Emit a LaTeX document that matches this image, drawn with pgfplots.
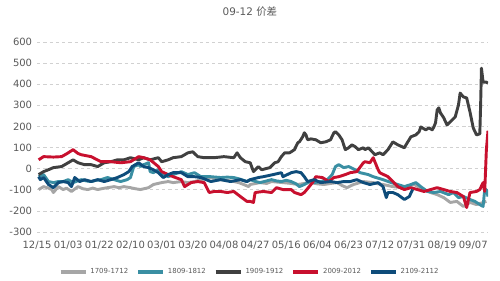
\documentclass[border=0pt]{standalone}
\usepackage{pgfplots}
\pgfplotsset{compat=1.18}
\usepackage{fontspec}
\setmainfont{DejaVu Sans}
\newfontfamily\cjk{Noto Sans CJK SC}
\definecolor{cgrey}{HTML}{A6A6A6}
\definecolor{cteal}{HTML}{3A8FA3}
\definecolor{cblack}{HTML}{404040}
\definecolor{cred}{HTML}{C8102E}
\definecolor{cblue}{HTML}{0E4C7A}
\definecolor{ctext}{HTML}{595959}
\begin{document}
\begin{tikzpicture}
\begin{axis}[
  name=ax,
  scale only axis,
  width=324.7pt, height=136.8pt,
  xmin=0, xmax=275, ymin=-300, ymax=600,
  axis line style={draw=none},
  ytick={-300,-200,-100,0,100,200,300,400,500,600},
  yticklabels={-300,-200,-100,0,100,200,300,400,500,600},
  xtick={0,19,38,57,76,95,114,133,152,171,190,209,228,247,266},
  xticklabels={12/15,01/03,01/22,02/10,03/01,03/20,04/08,04/27,05/16,06/04,06/23,07/12,07/31,08/19,09/07},
  tick style={draw=none},
  ymajorgrids,
  major grid style={draw=black!18, line width=0.5pt, dash pattern=on 2.5pt off 2pt},
  ticklabel style={font=\fontsize{7.2}{8}\selectfont, text=ctext},
  xticklabel style={yshift=-3pt},
  title={09-12 {\cjk 价差}},
  title style={at={(0.472,1.116)}, anchor=center, font=\fontsize{7.5}{9}\selectfont, text=ctext},
  legend columns=5,
  legend style={at={(0.472,-0.21)}, anchor=center, draw=none, fill=none,
    font=\fontsize{5}{6}\selectfont, text=ctext,
    /tikz/every even column/.append style={column sep=3.6pt}},
  legend image code/.code={\draw[line width=3pt] (0pt,0pt) -- (18pt,0pt);},
  every axis plot/.append style={line width=2.1pt, line join=round, no markers},
]
\addplot[cgrey] coordinates {(1,-99) (4,-85) (7,-92) (9,-99) (10,-113) (13,-85) (16,-99) (18,-92) (21,-108) (25,-85) (28,-95) (31,-99) (34,-92) (37,-99) (40,-94) (43,-90) (47,-85) (50,-90) (53,-85) (57,-90) (60,-95) (63,-99) (68,-90) (71,-75) (76,-66) (80,-61) (83,-66) (88,-61) (92,-66) (96,-61) (100,-52) (103,-48) (106,-42) (109,-50) (112,-52) (116,-56) (120,-61) (123,-66) (126,-75) (129,-85) (130,-75) (136,-66) (140,-70) (143,-61) (147,-64) (150,-66) (155,-70) (159,-75) (163,-70) (167,-66) (171,-72) (175,-75) (179,-70) (183,-66) (186,-80) (189,-90) (193,-75) (196,-68) (199,-61) (205,-66) (208,-72) (211,-75) (214,-80) (217,-85) (220,-88) (224,-90) (227,-80) (230,-75) (233,-88) (236,-99) (240,-113) (244,-123) (248,-137) (252,-160) (256,-155) (260,-179) (264,-160) (268,-170) (272,-160) (274,-155)};
\addlegendentry{1709-1712}
\addplot[cteal] coordinates {(1,-38) (4,-28) (7,-61) (10,-66) (13,-61) (16,-61) (19,-52) (22,-66) (27,-52) (30,-58) (33,-61) (36,-55) (39,-52) (43,-42) (47,-52) (51,-61) (55,-52) (57,-42) (59,10) (62,19) (63,10) (65,19) (68,28) (69,-14) (71,-19) (74,-5) (76,-19) (80,-38) (83,-28) (88,-14) (92,-28) (96,-19) (100,-38) (106,-38) (112,-42) (116,-40) (120,-42) (124,-50) (128,-61) (130,-52) (133,-60) (136,-66) (140,-58) (143,-52) (146,-58) (149,-61) (152,-55) (155,-61) (158,-72) (160,-85) (163,-75) (166,-61) (169,-66) (173,-61) (177,-52) (180,-28) (182,10) (184,19) (187,5) (190,10) (194,-5) (197,-19) (202,-28) (205,-38) (208,-45) (211,-52) (216,-66) (220,-75) (224,-85) (228,-75) (231,-66) (234,-85) (238,-108) (242,-113) (246,-108) (251,-123) (254,-113) (257,-137) (260,-132) (264,-146) (267,-155) (270,-170) (272,-179) (273,-99) (274,-99) (275,-132)};
\addlegendentry{1809-1812}
\addplot[cblack] coordinates {(1,-28) (4,-14) (7,-5) (10,5) (15,10) (19,28) (22,42) (25,28) (29,19) (33,19) (37,10) (41,28) (45,33) (49,42) (53,42) (57,52) (62,42) (65,52) (69,42) (74,52) (76,33) (80,42) (83,52) (88,57) (92,75) (95,80) (98,57) (102,52) (108,52) (114,57) (120,52) (122,75) (124,52) (127,33) (130,28) (132,-14) (135,10) (137,-5) (142,5) (145,28) (147,33) (149,57) (151,75) (154,75) (157,90) (159,123) (160,127) (162,151) (163,170) (164,160) (165,137) (167,141) (170,137) (173,123) (176,127) (179,137) (181,170) (182,175) (184,160) (186,137) (188,90) (190,99) (192,113) (194,104) (196,90) (199,99) (200,90) (202,99) (205,75) (206,66) (209,75) (211,66) (214,90) (217,127) (220,113) (224,99) (225,113) (228,151) (231,160) (233,175) (234,198) (237,184) (239,193) (241,184) (242,198) (243,217) (244,278) (245,288) (246,264) (248,241) (250,207) (252,222) (255,245) (257,302) (258,358) (260,340) (262,335) (264,269) (266,193) (268,160) (270,165) (270.5,302) (271,476) (272,410) (274,410) (275,405)};
\addlegendentry{1909-1912}
\addplot[cred] coordinates {(1,42) (4,57) (10,55) (15,57) (18,70) (22,90) (25,72) (27,66) (33,57) (39,33) (45,33) (51,28) (57,33) (62,57) (65,52) (69,42) (74,10) (76,-14) (80,-28) (83,-38) (88,-52) (90,-85) (94,-66) (98,-61) (102,-66) (105,-113) (108,-108) (112,-108) (116,-113) (120,-108) (124,-132) (128,-155) (130,-155) (132,-160) (133,-113) (138,-108) (143,-113) (146,-90) (150,-99) (155,-99) (157,-113) (161,-123) (163,-113) (166,-85) (168,-66) (170,-38) (174,-42) (178,-61) (181,-42) (184,-38) (188,-28) (191,-19) (195,-14) (199,28) (200,33) (203,28) (205,52) (208,-5) (209,-19) (214,-38) (217,-61) (220,-85) (224,-99) (228,-90) (232,-99) (236,-108) (240,-99) (244,-90) (248,-99) (252,-108) (256,-113) (260,-132) (262,-184) (264,-113) (268,-108) (270,-99) (272,-66) (273,-108) (274,90) (275,180)};
\addlegendentry{2009-2012}
\addplot[cblue] coordinates {(1,-38) (2,-52) (4,-42) (7,-75) (10,-90) (13,-66) (16,-61) (19,-66) (21,-85) (23,-42) (26,-61) (29,-52) (33,-61) (37,-52) (41,-61) (45,-52) (49,-42) (53,-28) (56,-14) (58,10) (62,28) (65,10) (68,5) (71,-5) (74,-19) (77,-42) (80,-28) (83,-19) (88,-19) (92,-38) (96,-38) (100,-42) (106,-61) (112,-52) (118,-61) (124,-52) (128,-61) (130,-52) (135,-42) (138,-38) (144,-28) (149,-19) (150,-38) (155,-19) (158,-14) (161,-19) (163,-38) (165,-61) (169,-52) (173,-66) (179,-61) (183,-66) (187,-61) (191,-61) (195,-52) (199,-66) (203,-75) (208,-66) (211,-85) (213,-137) (214,-113) (217,-113) (220,-123) (224,-146) (227,-132) (229,-99)};
\addlegendentry{2109-2112}
\end{axis}
\pgfresetboundingbox
\path[use as bounding box] ([shift={(-26.64pt,-34.56pt)}]ax.south west) rectangle ([shift={(8.64pt,30.24pt)}]ax.north east);
\end{tikzpicture}
\end{document}
